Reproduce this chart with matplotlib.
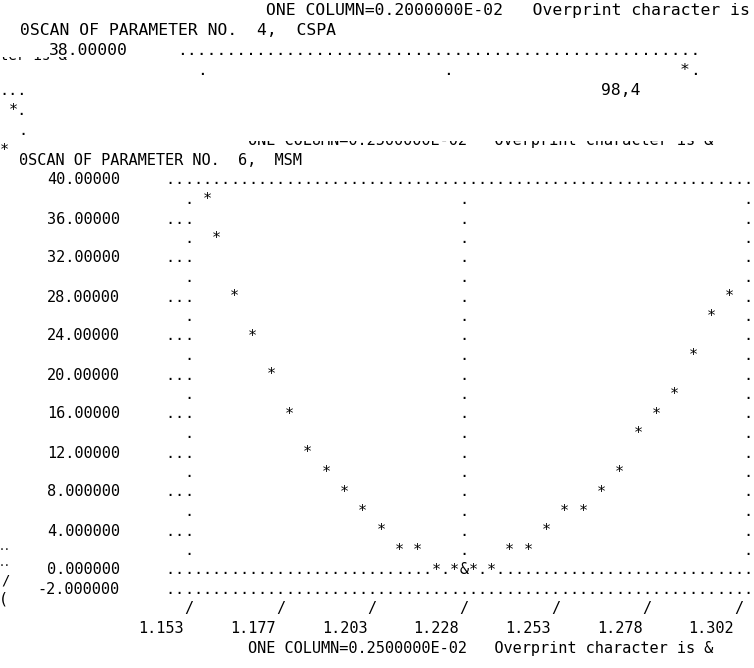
import numpy as np
import matplotlib.pyplot as plt
from matplotlib.patches import Rectangle

# scan of parameter 6 (MSM): parameter value / function value of each point
msm_x = [1.1580, 1.1605, 1.1655, 1.1705, 1.1755, 1.1805, 1.1855, 1.1905,
         1.1955, 1.2005, 1.2055, 1.2105, 1.2155, 1.2205, 1.2255, 1.2280,
         1.2280, 1.2305, 1.2355, 1.2405, 1.2455, 1.2505, 1.2555, 1.2605,
         1.2655, 1.2705, 1.2755, 1.2805, 1.2855, 1.2905, 1.2955, 1.3005]
msm_y = [38, 34, 28, 24, 20, 16, 12, 10, 8, 6, 4, 2, 2, 0, 0, 0,
         0, 0, 0, 2, 2, 4, 6, 6, 8, 10, 14, 16, 18, 22, 26, 28]

x_first = 1.153      # value of the first column
x_col = 0.0025       # ONE COLUMN=0.2500000E-02
y_top = 40.0
y_row = 2.0
y_bottom = -2.0
n_cols = 61          # right border column
mid_col = 30

ylab_values = [40, 36, 32, 28, 24, 20, 16, 12, 8, 4, 0, -2]
ylab_text = ["40.00000", "36.00000", "32.00000", "28.00000", "24.00000",
             "20.00000", "16.00000", "12.00000", "8.000000", "4.000000",
             "0.000000", "-2.000000"]
xtick_text = ["1.153", "1.177", "1.203", "1.228", "1.253", "1.278", "1.302"]

header = "0SCAN OF PARAMETER NO.  6,  MSM"
caption = "ONE COLUMN=0.2500000E-02   Overprint character is &"

# the page behind (parameter 4, CSPA)
cspa_header = "0SCAN OF PARAMETER NO.  4,  CSPA"
cspa_caption = "ONE COLUMN=0.2000000E-02   Overprint character is &"
cspa_top = "38.00000"

W, H = 754, 668
MONO = "DejaVu Sans Mono"
ADV = 0.60205  # advance width of DejaVu Sans Mono in em


def size_for(cw):
    return cw / ADV * 72 / 100


fig = plt.figure(figsize=(W / 100, H / 100), dpi=100)

# ---------------- page behind, pixel units ----------------
bg = fig.add_axes([0, 0, 1, 1])
bg.set_xlim(0, W)
bg.set_ylim(H, 0)
bg.set_axis_off()

bcw = 9.85
bfs = size_for(bcw)
bcol0, brow0, bpitch = 202.2, 55.0, 20.0


def bx(c):
    return bcol0 + c * bcw


def by(r):
    return brow0 + r * bpitch


def btext(c, r, s, ha="left"):
    x = bx(c) - bcw / 2 if ha == "left" else bx(c) + bcw / 2
    bg.text(x, by(r), s, ha=ha, va="baseline", family=MONO,
            fontsize=bfs, color="black")


btext(7, -2, cspa_caption)
btext(-18, -1, cspa_header)
btext(-8, 0, cspa_top, ha="right")
btext(-2, 0, "." * 53)
for c, ch in [(0, "."), (25, "."), (49, "*"), (50, ".")]:
    btext(c, 1, ch)
btext(41, 2, "98,4")

# edge of another page further left
strip = [(2, "..."), (3, "*."), (4, "."), (5, "*  ")]
for r, s in strip:
    bg.text(27.1, by(r), s, ha="right", va="baseline", family=MONO,
            fontsize=size_for(9.17), color="black")

frag = bg.text(0.5, 60.5, "ter is &", ha="left", va="baseline", family=MONO,
               fontsize=size_for(8.4), color="black")
frag.set_clip_on(True)
frag.set_clip_path(Rectangle((0, 56.5), 90, 20, transform=bg.transData))

for y, s, fs in [(550, "..", 7), (566, "..", 7), (585, "/", 10), (603, "(", 11)]:
    bg.text(-1.5 if s != "/" else 1.5, y, s, ha="left", va="baseline",
            family=MONO, fontsize=fs, color="black")

# ---------------- MSM scan window ----------------
win_left, win_top = 12, 141
cw = 9.17
col0_px, row0_px, pitch = 188.6, 184.5, 19.5
fs = size_for(cw)

ax = fig.add_axes([win_left / W, 0, 1 - win_left / W, (H - win_top) / H])
ax.set_xlim(x_first + (win_left - col0_px) / cw * x_col,
            x_first + (W - col0_px) / cw * x_col)
ax.set_ylim(y_top - (H - row0_px) / pitch * y_row,
            y_top - (win_top - row0_px) / pitch * y_row)
ax.set_xticks([])
ax.set_yticks([])
for sp in ax.spines.values():
    sp.set_visible(False)
ax.set_facecolor("white")


def xc(c):
    return x_first + c * x_col


def yr(r):
    return y_top - r * y_row


def put(c, r, s, ha="center"):
    x = xc(c)
    if ha == "left":
        x -= x_col / 2
    elif ha == "right":
        x += x_col / 2
    ax.text(x, yr(r), s, ha=ha, va="baseline", family=MONO, fontsize=fs,
            color="black", clip_on=True)


# character grid of the printer plot
cells = {}
n_rows = int(round((y_top - y_bottom) / y_row))
for r in range(n_rows + 1):
    y = yr(r)
    if y in (y_top, 0.0, y_bottom):
        for c in range(-2, n_cols + 2):
            cells[(c, r)] = "."
    else:
        for c in (0, mid_col, n_cols):
            cells[(c, r)] = "."
        if y in ylab_values:
            cells[(-2, r)] = "."
            cells[(-1, r)] = "."

for x, y in zip(msm_x, msm_y):
    c = int(round((x - x_first) / x_col))
    r = int(round((y_top - y) / y_row))
    cells[(c, r)] = "&" if cells.get((c, r)) in ("*", "&") else "*"

for (c, r), ch in cells.items():
    put(c, r, ch)

# y labels
for v, s in zip(ylab_values, ylab_text):
    put(-8, int(round((y_top - v) / y_row)), s, ha="right")

# x ticks and labels
for i, s in enumerate(xtick_text):
    put(10 * i, n_rows + 1, "/")
    put(10 * i - 1, n_rows + 2, s, ha="right")

put(7, n_rows + 3, caption, ha="left")
put(-18, -1, header, ha="left")
put(7, -2, caption, ha="left")

fig.savefig("out.png", dpi=100, facecolor="white")
